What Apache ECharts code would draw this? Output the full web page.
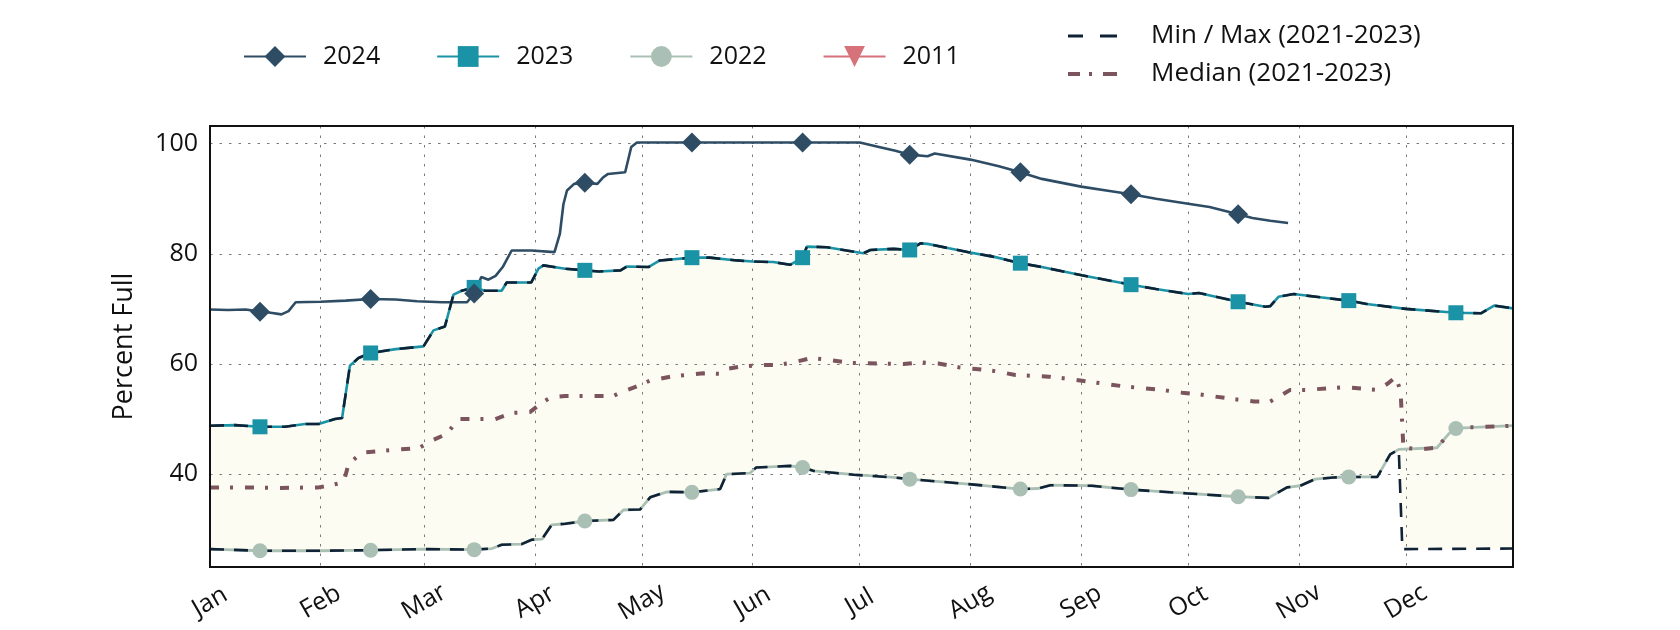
<!DOCTYPE html>
<html>
<head>
<meta charset="utf-8">
<script src="https://cdn.jsdelivr.net/npm/echarts@6/dist/echarts.min.js"></script>
<style>html,body{margin:0;padding:0;background:#fff}#c{width:1680px;height:630px}</style>
</head>
<body>
<div id="c"></div>
<script>
// ---- axis ticks / labels (day of year, leap year 2024) ----
const monthStarts = [0, 31, 60, 91, 121, 152, 182, 213, 244, 274, 305, 335];
const monthLabels = ['Jan', 'Feb', 'Mar', 'Apr', 'May', 'Jun', 'Jul', 'Aug', 'Sep', 'Oct', 'Nov', 'Dec'];
const yTicks = [40, 60, 80, 100];
const markerDays = [14, 45, 74, 105, 135, 166, 196, 227, 258, 288, 319, 349];

// ---- series values: [day of year, percent full] ----
const y2024 = [[0,69.9],[5,69.8],[10,69.9],[14,69.5],[17,69.3],[20,69.0],[22,69.6],[24,71.2],[31,71.3],[38,71.5],[45,71.8],[52,71.7],[58,71.4],[65,71.2],[72,71.2],[74,72.8],[76,75.8],[78,75.3],[80,76.0],[82,77.6],[84.5,80.6],[90,80.6],[96.5,80.3],[98,83.6],[99,89.0],[100,91.5],[102,92.7],[105,92.9],[108.5,92.7],[110,93.8],[111.5,94.5],[116.3,94.8],[118,99.4],[119.6,100.2],[135,100.2],[166,100.2],[182,100.2],[188,99.3],[192,98.7],[196,98.0],[201,97.7],[203,98.2],[213,97.1],[221,95.9],[227,94.8],[233,93.6],[244,92.2],[252,91.4],[258,90.8],[265,90.0],[274,89.1],[280,88.5],[288,87.2],[292,86.5],[297,86.0],[302,85.6]];

const y2023 = [[0,48.8],[7,48.9],[14,48.6],[21,48.6],[26.6,49.1],[30.4,49.1],[35,50.0],[37,50.2],[39.2,59.7],[41.6,61.1],[45,62.0],[52,62.7],[59.8,63.2],[62.6,66.1],[65.8,66.8],[68.2,72.6],[70.5,73.3],[74,73.9],[77,73.3],[81.7,73.3],[83.1,74.8],[90,74.8],[92,77.3],[93.4,77.9],[99.5,77.3],[105,77.0],[109,76.8],[115,77.0],[116.8,77.7],[122.8,77.6],[126,78.8],[135,79.3],[140,79.3],[147.6,78.8],[152,78.6],[157.8,78.5],[162.5,78.0],[166,79.3],[167.2,81.3],[172.8,81.2],[183,80.1],[185,80.7],[191.5,80.9],[196,80.7],[199,81.9],[201,81.8],[207,81.0],[212.5,80.3],[220,79.4],[227,78.3],[233,77.6],[244.2,76.1],[258,74.4],[265,73.6],[274,72.7],[277,72.9],[288,71.3],[295.6,70.4],[297,70.5],[299.3,72.2],[303.6,72.7],[311,72.1],[319,71.5],[324,70.9],[335,70.0],[349,69.3],[356,69.2],[359.7,70.6],[365,70.1]];

const y2022 = [[0,26.4],[14,26.1],[31,26.1],[45,26.2],[60,26.4],[74,26.3],[79,26.5],[81.7,27.2],[87.3,27.3],[90.1,28.1],[93,28.2],[95.7,30.8],[99.5,31.0],[105,31.5],[113,31.7],[115.8,33.5],[120.5,33.6],[123.3,35.8],[128,36.8],[135,36.7],[142.9,37.3],[144.7,40.0],[151.3,40.2],[153,41.2],[162.5,41.5],[166,41.2],[169,40.6],[180.3,39.9],[191.5,39.4],[196,39.1],[212.5,38.2],[227,37.3],[232,37.4],[235.4,38.0],[247,37.9],[258,37.2],[274,36.5],[288,35.9],[296.5,35.7],[301.7,37.6],[305.4,37.9],[309.6,39.1],[314.7,39.4],[319,39.5],[327,39.5],[330.6,43.6],[333,44.5],[343.7,44.8],[347,47.3],[349,48.3],[354,48.5],[365,48.8]];

const y2011 = [];

// Max of 2021-2023 follows the 2023 curve all year in the picture
const max2123 = y2023;
// Min of 2021-2023 follows 2022 until end of November, then drops
const min2123Tail = [[334,26.4],[365,26.5]];
const min2123 = y2022.filter(p => p[0] <= 333).concat(min2123Tail);

const median2123 = [[0,37.6],[10,37.6],[20,37.5],[30.4,37.6],[33,37.9],[37.4,38.5],[38.8,41.8],[42.5,43.9],[52.8,44.5],[58.4,44.7],[62.1,46.1],[66.3,47.3],[69.6,50.0],[79.9,50.0],[84.5,51.1],[89.7,51.3],[93,53.0],[95.7,54.0],[99.5,54.2],[113,54.2],[114.9,54.8],[119,55.8],[123.3,57.0],[129,57.7],[138.2,58.3],[142.9,58.2],[144.7,59.1],[148.5,59.5],[154,59.8],[158.8,59.8],[163.4,60.3],[168.6,61.1],[173.7,60.7],[179.3,60.2],[194.3,60.0],[199,60.3],[204,60.1],[209.7,59.4],[214.4,59.1],[220,58.7],[225.6,58.0],[235,57.7],[240.5,57.3],[246.1,56.8],[256.4,55.9],[266.6,55.3],[272.3,54.8],[277,54.5],[287,53.6],[292.5,53.2],[297,53.2],[299.8,54.2],[302.6,55.3],[307.3,55.3],[317.6,55.8],[323.2,55.5],[327,55.3],[329.8,56.4],[332.1,57.6],[333.5,55.2],[334.3,44.8],[339,44.5],[343.7,44.8],[347,47.3],[349.3,48.5],[354,48.5],[365,48.8]];

// ---- chart ----
const FONT = '"Open Sans", "Noto Sans", sans-serif';
const C2024 = '#2e4d65', C2023 = '#1a93a6', C2022 = '#abc0b4', C2011 = '#d6737a';
const CMM = '#0f2236', CMED = '#7b545d';
const markersOf = arr => arr.filter(p => markerDays.indexOf(p[0]) >= 0);

const chart = echarts.init(document.getElementById('c'), null, {renderer: 'canvas'});
const gridLine = {show: true, lineStyle: {color: '#7a7a7a', width: 1, type: [2.5, 7]}};

chart.setOption({
  animation: false,
  backgroundColor: '#ffffff',
  textStyle: {fontFamily: FONT, color: '#111'},
  grid: {left: 210, right: 167, top: 126, bottom: 63, show: true, borderColor: '#111', borderWidth: 2, backgroundColor: 'transparent', z: 10},
  legend: [
    {
      data: ['2024', '2023', '2022', '2011'],
      left: 238, top: 39, itemWidth: 62, itemHeight: 26, itemGap: 56,
      itemStyle: {borderWidth: 0},
      textStyle: {fontSize: 25, color: '#111', fontFamily: FONT, padding: [0, 0, 0, 12]}
    },
    {
      data: [
        {name: 'Min / Max (2021-2023)', icon: 'path://M0,0h15v3h-15zM32,0h17v3h-17z'},
        {name: 'Median (2021-2023)', icon: 'path://M0,0h12v3.8h-12zM21,0h3v3.8h-3zM35,0h14v3.8h-14z'}
      ],
      orient: 'vertical', left: 1063, top: 18, itemWidth: 49, itemHeight: 26, itemGap: 12,
      itemStyle: {borderWidth: 0},
      textStyle: {fontSize: 26, color: '#111', fontFamily: FONT, padding: [0, 0, 0, 29]}
    }
  ],
  xAxis: {
    type: 'value', min: 0, max: 365, z: 1,
    axisLine: {show: false},
    axisTick: {show: false, customValues: monthStarts},
    axisLabel: {
      customValues: monthStarts,
      formatter: v => monthLabels[monthStarts.indexOf(v)],
      rotate: 30, align: 'center', verticalAlign: 'middle', margin: 35,
      fontSize: 25, color: '#111', fontFamily: FONT
    },
    splitLine: gridLine
  },
  yAxis: {
    type: 'value', min: 23.15, max: 103.2, z: 1,
    name: 'Percent Full', nameLocation: 'middle', nameGap: 72,
    nameTextStyle: {fontSize: 27, color: '#111', fontFamily: FONT},
    axisLine: {show: false},
    axisTick: {show: false, customValues: yTicks},
    axisLabel: {customValues: yTicks, margin: 12, fontSize: 25, color: '#111', fontFamily: FONT},
    splitLine: gridLine
  },
  series: [
    {
      type: 'custom', name: 'band', z: 0, silent: true,
      data: [[0, 50]], encode: {x: 0, y: 1},
      renderItem: (params, api) => {
        const pts = max2123.map(p => api.coord(p))
          .concat(min2123.slice().reverse().map(p => api.coord(p)));
        return {type: 'polygon', shape: {points: pts}, style: {fill: '#fcfcf2'}};
      }
    },
    {name: '2022', type: 'line', data: y2022, z: 2, showSymbol: false, symbol: 'circle', symbolSize: 15,
     lineStyle: {color: C2022, width: 2.8}, itemStyle: {color: C2022}},
    {name: '2023', type: 'line', data: y2023, z: 2, showSymbol: false, symbol: 'rect', symbolSize: 15,
     lineStyle: {color: C2023, width: 2.6}, itemStyle: {color: C2023}},
    {name: '2024', type: 'line', data: y2024, z: 3, showSymbol: false, symbol: 'diamond', symbolSize: 20,
     lineStyle: {color: C2024, width: 2.6}, itemStyle: {color: C2024}},
    {name: '2011', type: 'line', data: y2011, z: 3, showSymbol: false, symbol: 'path://M0,0L10,0L5,9Z', symbolSize: 15,
     lineStyle: {color: C2011, width: 2.6}, itemStyle: {color: C2011}},
    {name: 'Min / Max (2021-2023)', type: 'line', data: max2123, z: 4, symbol: 'none',
     lineStyle: {color: CMM, width: 2.6, type: [14, 10]}, itemStyle: {color: CMM}},
    {name: 'Min / Max (2021-2023)', type: 'line', data: min2123, z: 4, symbol: 'none',
     lineStyle: {color: CMM, width: 2.6, type: [14, 10]}, itemStyle: {color: CMM}},
    {name: 'Median (2021-2023)', type: 'line', data: median2123, z: 4, symbol: 'none',
     lineStyle: {color: CMED, width: 4, type: [9, 11, 3, 12]}, itemStyle: {color: CMED}},
    {name: 'm2022', type: 'scatter', data: markersOf(y2022), z: 6, silent: true, symbol: 'circle', symbolSize: 15, itemStyle: {color: C2022, opacity: 1}},
    {name: 'm2023', type: 'scatter', data: markersOf(y2023), z: 6, silent: true, symbol: 'rect', symbolSize: 15, itemStyle: {color: C2023, opacity: 1}},
    {name: 'm2024', type: 'scatter', data: markersOf(y2024), z: 6, silent: true, symbol: 'diamond', symbolSize: 20, itemStyle: {color: C2024, opacity: 1}}
  ]
});
</script>
</body>
</html>
